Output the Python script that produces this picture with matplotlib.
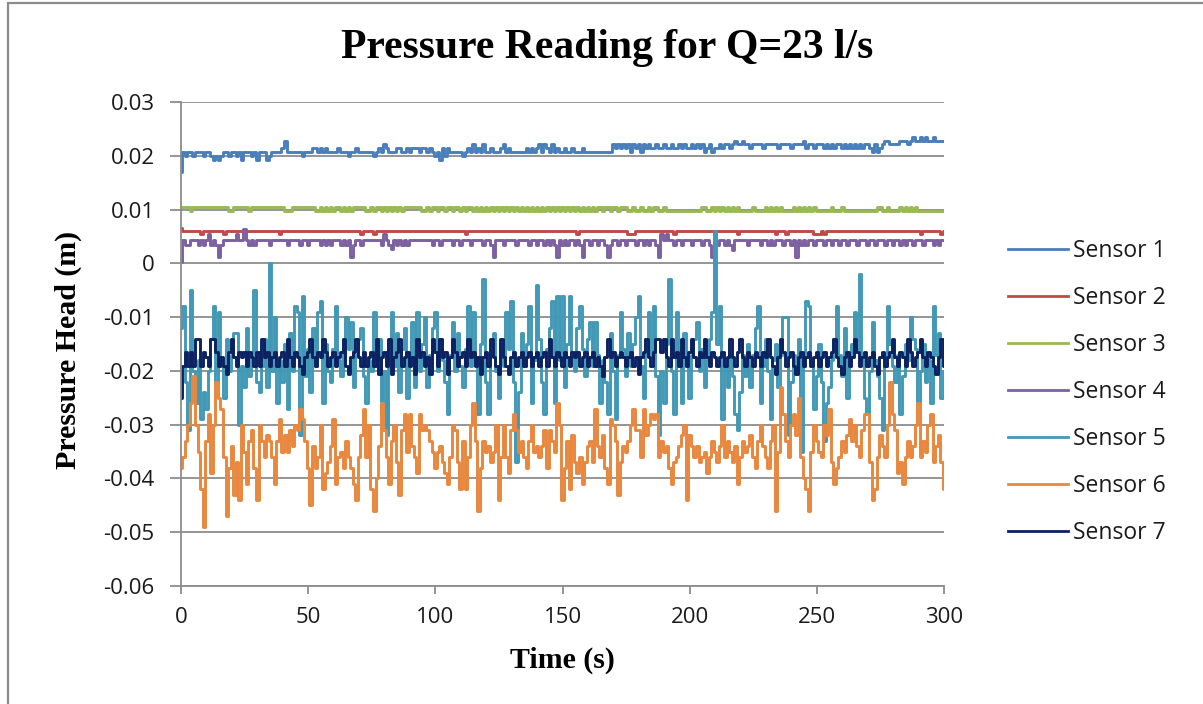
import numpy as np
import matplotlib
matplotlib.use("Agg")
import matplotlib.pyplot as plt
from matplotlib.patches import Rectangle
from matplotlib.ticker import FuncFormatter

plt.rcParams['axes.unicode_minus'] = False

# readings in mm, one per second (0..300 s)
sensor1 = [17.0, 20.7, 20.0, 20.7, 20.7, 20.0, 20.7, 20.7, 20.7, 20.0,
           20.7, 20.7, 20.0, 19.3, 20.0, 19.3, 20.0, 20.7, 20.7, 20.0,
           20.7, 20.7, 20.0, 20.7, 19.3, 20.7, 20.7, 20.7, 20.0, 20.7,
           19.3, 20.7, 20.7, 20.7, 19.3, 20.0, 20.7, 20.7, 20.7, 20.7,
           21.4, 22.8, 20.7, 20.7, 20.7, 20.7, 20.7, 20.7, 20.0, 20.7,
           20.7, 20.7, 21.4, 21.4, 20.7, 21.4, 20.7, 21.4, 20.7, 20.7,
           20.7, 20.7, 21.4, 20.7, 20.7, 20.7, 20.0, 20.7, 20.7, 21.4,
           20.7, 20.7, 20.7, 20.7, 20.7, 20.7, 20.0, 20.7, 21.4, 20.7,
           22.1, 21.4, 20.7, 20.7, 20.7, 21.4, 21.4, 20.7, 20.7, 21.4,
           20.7, 21.4, 21.4, 21.4, 20.7, 21.4, 21.4, 20.7, 21.4, 20.7,
           20.0, 20.7, 19.3, 21.4, 20.0, 21.4, 20.7, 20.7, 20.7, 20.7,
           20.7, 20.0, 20.7, 21.4, 20.7, 22.1, 20.7, 21.4, 20.7, 22.1,
           20.7, 20.7, 21.4, 20.7, 20.7, 20.7, 21.4, 22.1, 20.7, 21.4,
           20.7, 20.7, 20.7, 20.7, 20.7, 20.7, 21.4, 20.7, 21.4, 20.7,
           21.4, 22.1, 20.7, 22.1, 21.4, 20.7, 22.1, 20.7, 21.4, 20.7,
           20.7, 21.4, 20.7, 20.7, 21.4, 20.7, 20.7, 20.7, 21.4, 20.7,
           20.7, 20.7, 20.7, 20.7, 20.7, 20.7, 20.7, 20.7, 20.7, 20.7,
           22.1, 21.4, 22.1, 21.4, 22.1, 21.4, 22.1, 20.7, 22.1, 21.4,
           22.1, 20.7, 22.1, 21.4, 22.1, 21.4, 21.4, 22.1, 21.4, 21.4,
           22.1, 21.4, 21.4, 22.1, 21.4, 21.4, 22.1, 21.4, 22.1, 21.4,
           21.4, 22.1, 21.4, 22.1, 21.4, 22.1, 20.7, 21.4, 22.1, 20.7,
           21.4, 21.4, 22.1, 21.4, 22.1, 22.1, 21.4, 22.1, 22.8, 22.1,
           22.1, 22.8, 22.1, 22.1, 21.4, 22.1, 22.1, 22.1, 22.1, 21.4,
           22.1, 22.1, 22.1, 22.1, 22.1, 21.4, 22.1, 22.1, 22.1, 22.1,
           21.4, 22.1, 22.1, 22.1, 22.1, 22.8, 21.4, 22.1, 22.1, 21.4,
           22.1, 22.1, 22.1, 21.4, 22.1, 21.4, 22.1, 21.4, 22.1, 22.1,
           21.4, 22.1, 21.4, 22.1, 21.4, 22.1, 21.4, 22.1, 21.4, 22.1,
           22.1, 21.4, 20.7, 22.1, 20.7, 21.4, 22.1, 22.8, 22.8, 22.1,
           22.1, 22.1, 22.1, 22.8, 22.8, 22.8, 22.1, 22.8, 23.5, 22.8,
           22.8, 23.5, 22.8, 23.5, 22.8, 22.8, 23.5, 22.8, 22.8, 22.8,
           22.8]

sensor2 = [6.6, 6.1, 6.1, 6.1, 6.1, 6.1, 6.1, 6.1, 5.4, 6.1,
           6.1, 6.1, 6.1, 6.1, 6.1, 6.1, 6.1, 5.4, 6.1, 6.1,
           6.1, 6.1, 6.1, 6.1, 6.1, 6.1, 6.1, 6.1, 6.1, 6.1,
           6.1, 6.1, 6.1, 6.1, 6.1, 6.1, 6.1, 6.1, 6.1, 5.4,
           6.1, 6.1, 6.1, 6.1, 6.1, 6.1, 6.1, 6.1, 6.1, 6.1,
           6.1, 6.1, 6.1, 6.1, 6.1, 6.1, 6.1, 6.1, 6.1, 6.1,
           6.1, 6.1, 6.1, 6.1, 6.1, 6.1, 6.1, 6.1, 6.1, 6.1,
           6.1, 5.4, 6.1, 6.1, 6.1, 6.1, 5.4, 6.1, 6.1, 6.1,
           6.1, 6.1, 6.1, 6.1, 6.1, 6.1, 6.1, 6.1, 6.1, 6.1,
           6.1, 6.1, 6.1, 6.1, 6.1, 6.1, 6.1, 6.1, 6.1, 6.1,
           6.1, 6.1, 6.1, 6.1, 6.1, 6.1, 6.1, 6.1, 6.1, 6.1,
           6.1, 6.1, 5.4, 6.1, 6.1, 6.1, 6.1, 6.1, 6.1, 6.1,
           6.1, 6.1, 6.1, 6.1, 6.1, 6.1, 6.1, 6.1, 6.1, 6.1,
           6.1, 6.1, 6.1, 6.1, 6.1, 6.1, 6.1, 6.1, 6.1, 6.1,
           6.1, 6.1, 6.1, 6.1, 6.1, 6.1, 6.1, 6.1, 6.1, 6.1,
           6.1, 6.1, 6.1, 6.1, 6.1, 6.1, 5.4, 6.1, 6.1, 6.1,
           6.1, 6.1, 6.1, 6.1, 6.1, 6.1, 6.1, 6.1, 6.1, 6.1,
           6.1, 6.1, 6.1, 6.1, 6.1, 6.1, 5.4, 5.4, 5.4, 6.1,
           6.1, 6.1, 6.1, 6.1, 6.1, 6.1, 6.1, 6.1, 6.1, 6.1,
           6.1, 6.1, 6.1, 6.1, 5.4, 6.1, 6.1, 6.1, 6.1, 6.1,
           6.1, 6.1, 6.1, 6.1, 6.1, 6.1, 6.1, 6.1, 6.1, 6.1,
           6.1, 6.1, 6.1, 6.1, 6.1, 6.1, 6.1, 6.1, 6.1, 5.4,
           6.1, 6.1, 6.1, 6.1, 6.1, 6.1, 6.1, 6.1, 6.1, 6.1,
           6.1, 6.1, 6.1, 6.1, 5.4, 6.1, 6.1, 6.1, 5.4, 6.1,
           6.1, 6.1, 6.1, 6.1, 6.1, 6.1, 6.1, 6.1, 6.1, 5.4,
           5.4, 5.4, 6.1, 5.4, 6.1, 6.1, 6.1, 6.1, 6.1, 6.1,
           6.1, 6.1, 6.1, 6.1, 6.1, 6.1, 6.1, 6.1, 6.1, 6.1,
           6.1, 6.1, 6.1, 6.1, 6.1, 6.1, 6.1, 6.1, 6.1, 6.1,
           6.1, 6.1, 6.1, 6.1, 6.1, 6.1, 6.1, 6.1, 6.1, 6.1,
           6.1, 5.4, 6.1, 6.1, 6.1, 6.1, 6.1, 6.1, 6.1, 5.4,
           6.1]

sensor3 = [10.4, 10.4, 10.4, 10.4, 9.8, 10.4, 10.4, 10.4, 10.4, 10.4,
           10.4, 10.4, 10.4, 10.4, 10.4, 10.4, 10.4, 10.4, 10.4, 9.8,
           9.8, 10.4, 10.4, 10.4, 10.4, 10.4, 10.4, 9.8, 10.4, 10.4,
           10.4, 10.4, 10.4, 10.4, 10.4, 10.4, 10.4, 10.4, 10.4, 10.4,
           10.4, 9.8, 9.8, 9.8, 10.4, 10.4, 10.4, 10.4, 10.4, 10.4,
           10.4, 10.4, 10.4, 9.8, 9.8, 10.4, 9.8, 10.4, 9.8, 10.4,
           9.8, 10.4, 10.4, 9.8, 10.4, 9.8, 10.4, 9.8, 10.4, 10.4,
           10.4, 10.4, 10.4, 9.8, 9.8, 10.4, 9.8, 10.4, 10.4, 9.8,
           10.4, 9.8, 10.4, 9.8, 10.4, 9.8, 10.4, 9.8, 10.4, 10.4,
           10.4, 10.4, 10.4, 10.4, 10.4, 9.8, 9.8, 10.4, 9.8, 10.4,
           10.4, 9.8, 10.4, 10.4, 9.8, 10.4, 10.4, 9.8, 10.4, 10.4,
           9.8, 10.4, 9.8, 10.4, 10.4, 9.8, 10.4, 9.8, 10.4, 9.8,
           10.4, 9.8, 10.4, 9.8, 10.4, 9.8, 10.4, 9.8, 10.4, 9.8,
           10.4, 9.8, 10.4, 9.8, 10.4, 9.8, 10.4, 9.8, 10.4, 9.8,
           10.4, 9.8, 10.4, 9.8, 10.4, 9.8, 10.4, 9.8, 10.4, 9.8,
           10.4, 9.8, 10.4, 9.8, 10.4, 9.8, 10.4, 9.8, 10.4, 9.8,
           10.4, 9.8, 10.4, 9.8, 10.4, 10.4, 9.8, 10.4, 10.4, 9.8,
           10.4, 10.4, 9.8, 10.4, 10.4, 10.4, 9.8, 9.8, 10.4, 9.8,
           9.8, 10.4, 9.8, 9.8, 10.4, 9.8, 10.4, 10.4, 9.8, 9.8,
           10.4, 9.8, 9.8, 9.8, 9.8, 9.8, 9.8, 9.8, 9.8, 9.8,
           9.8, 9.8, 9.8, 9.8, 9.8, 10.4, 10.4, 9.8, 9.8, 10.4,
           9.8, 10.4, 9.8, 10.4, 9.8, 10.4, 9.8, 10.4, 9.8, 10.4,
           9.8, 9.8, 9.8, 9.8, 9.8, 10.4, 9.8, 9.8, 9.8, 9.8,
           10.4, 9.8, 10.4, 9.8, 10.4, 9.8, 10.4, 9.8, 9.8, 9.8,
           9.8, 10.4, 9.8, 10.4, 9.8, 10.4, 9.8, 10.4, 9.8, 10.4,
           9.8, 9.8, 9.8, 9.8, 9.8, 9.8, 10.4, 9.8, 9.8, 9.8,
           10.4, 9.8, 9.8, 9.8, 9.8, 9.8, 9.8, 9.8, 9.8, 9.8,
           9.8, 9.8, 9.8, 9.8, 10.4, 10.4, 9.8, 9.8, 10.4, 9.8,
           9.8, 9.8, 9.8, 10.4, 9.8, 10.4, 9.8, 10.4, 9.8, 10.4,
           9.8, 9.8, 9.8, 9.8, 9.8, 9.8, 9.8, 9.8, 9.8, 9.8,
           9.8]

sensor4 = [0.2, 4.4, 3.4, 3.4, 4.4, 4.4, 4.4, 3.4, 4.4, 3.4,
           4.4, 5.5, 3.4, 4.4, 3.4, 1.2, 3.4, 4.4, 4.4, 4.4,
           4.4, 4.4, 5.5, 4.4, 4.4, 6.4, 4.4, 3.4, 4.4, 3.4,
           4.4, 4.4, 4.4, 4.4, 4.4, 3.4, 4.4, 4.4, 4.4, 4.4,
           4.4, 4.4, 3.4, 4.4, 4.4, 4.4, 4.4, 3.4, 4.4, 4.4,
           3.4, 4.4, 4.4, 4.4, 4.4, 3.4, 4.4, 3.4, 4.4, 3.4,
           4.4, 4.4, 4.4, 3.4, 4.4, 3.4, 4.4, 1.2, 3.4, 4.4,
           4.4, 3.4, 4.4, 4.4, 4.4, 4.4, 4.4, 4.4, 4.4, 3.4,
           5.5, 4.4, 3.4, 2.6, 4.4, 3.4, 4.4, 3.4, 4.4, 3.4,
           4.4, 4.4, 4.4, 4.4, 4.4, 4.4, 4.4, 4.4, 4.4, 3.4,
           4.4, 4.4, 3.4, 4.4, 4.4, 4.4, 4.4, 3.4, 4.4, 4.4,
           3.4, 4.4, 4.4, 4.4, 3.4, 4.4, 4.4, 4.4, 4.4, 3.4,
           4.4, 4.4, 3.4, 1.2, 4.4, 4.4, 4.4, 3.4, 4.4, 4.4,
           4.4, 4.4, 3.4, 4.4, 4.4, 4.4, 4.4, 3.4, 4.4, 4.4,
           3.4, 4.4, 4.4, 3.4, 4.4, 3.4, 4.4, 3.4, 1.2, 4.4,
           3.4, 4.4, 3.4, 4.4, 4.4, 3.4, 4.4, 3.4, 1.2, 4.4,
           4.4, 3.4, 4.4, 4.4, 3.4, 4.4, 4.4, 3.4, 1.2, 3.4,
           4.4, 4.4, 3.4, 4.4, 4.4, 3.4, 4.4, 4.4, 4.4, 3.4,
           4.4, 4.4, 3.4, 4.4, 3.4, 4.4, 4.4, 3.4, 1.2, 5.5,
           4.4, 5.5, 4.4, 4.4, 3.4, 4.4, 4.4, 3.4, 4.4, 4.4,
           4.4, 3.4, 4.4, 4.4, 4.4, 3.4, 4.4, 4.4, 3.4, 1.2,
           5.5, 3.4, 4.4, 4.4, 3.4, 4.4, 3.4, 2.4, 4.4, 4.4,
           4.4, 4.4, 4.4, 3.4, 4.4, 4.4, 4.4, 4.4, 3.4, 4.4,
           4.4, 3.4, 4.4, 3.4, 4.4, 4.4, 4.4, 3.4, 4.4, 4.4,
           3.4, 4.4, 1.2, 4.4, 3.4, 4.4, 3.4, 4.4, 4.4, 3.4,
           4.4, 4.4, 4.4, 3.4, 4.4, 4.4, 3.4, 4.4, 4.4, 3.4,
           4.4, 4.4, 3.4, 4.4, 4.4, 4.4, 3.4, 4.4, 4.4, 4.4,
           3.4, 4.4, 4.4, 3.4, 4.4, 4.4, 4.4, 3.4, 4.4, 4.4,
           3.4, 4.4, 4.4, 3.4, 4.4, 3.4, 4.4, 4.4, 3.4, 4.4,
           4.4, 4.4, 3.4, 4.4, 4.4, 4.4, 3.4, 4.4, 3.4, 4.4,
           4.4]

sensor5 = [-12, -8, -22, -31, -5, -20, -26, -18, -29, -24,
           -27, -20, -14, -8, -22, -9, -19, -25, -14, -20,
           -17, -13, -13, -30, -19, -23, -12, -21, -17, -5,
           -22, -24, -19, -14, -23, 0, -20, -10, -26, -18,
           -22, -15, -27, -13, -20, -8, -9, -32, -6, -21,
           -16, -24, -12, -19, -9, -7, -26, -15, -20, -22,
           -16, -8, -18, -21, -14, -10, -16, -11, -23, -17,
           -14, -12, -21, -26, -18, -20, -9, -18, -14, -28,
           -20, -32, -15, -9, -19, -13, -24, -16, -12, -25,
           -17, -11, -23, -9, -20, -15, -10, -23, -17, -12,
           -9, -20, -14, -18, -22, -28, -17, -11, -20, -13,
           -19, -23, -16, -8, -19, -9, -18, -28, -15, -3,
           -22, -28, -17, -13, -20, -25, -15, -19, -9, -16,
           -7, -22, -37, -24, -13, -19, -15, -8, -26, -18,
           -4, -14, -22, -28, -16, -12, -7, -26, -6, -18,
           -6, -23, -15, -6, -17, -20, -12, -8, -16, -21,
           -14, -11, -19, -11, -17, -26, -18, -22, -28, -13,
           -20, -29, -17, -9, -16, -21, -13, -19, -15, -10,
           -6, -19, -25, -14, -9, -17, -8, -21, -32, -20,
           -26, -15, -3, -20, -28, -9, -18, -26, -13, -19,
           -25, -17, -14, -11, -20, -16, -23, -18, -14, -9,
           6, -15, -8, -29, -19, -23, -17, -21, -28, -31,
           -24, -17, -21, -15, -23, -17, -12, -8, -26, -19,
           -14, -20, -29, -18, -15, -23, -17, -10, -10, -32,
           -22, -17, -20, -14, -35, -19, -7, -8, -18, -27,
           -21, -15, -22, -33, -26, -23, -18, -14, -8, -17,
           -21, -12, -25, -19, -15, -9, -16, -2, -18, -25,
           -28, -20, -11, -18, -21, -25, -31, -19, -8, -15,
           -19, -22, -17, -28, -21, -15, -18, -10, -14, -16,
           -26, -20, -15, -22, -18, -26, -8, -17, -13, -25,
           -20]

sensor6 = [-38, -36, -33, -30, -26, -21, -30, -35, -42, -49,
           -33, -28, -39, -30, -22, -25, -27, -36, -47, -38,
           -34, -43, -37, -44, -30, -35, -41, -33, -31, -38,
           -44, -30, -33, -36, -32, -33, -36, -41, -33, -29,
           -35, -32, -35, -31, -34, -30, -31, -27, -29, -33,
           -38, -45, -34, -38, -36, -30, -42, -39, -37, -34,
           -29, -41, -36, -35, -38, -33, -36, -38, -41, -44,
           -36, -32, -27, -36, -30, -42, -46, -40, -34, -26,
           -31, -36, -41, -33, -30, -37, -43, -31, -28, -35,
           -28, -34, -36, -39, -28, -31, -30, -31, -33, -35,
           -38, -35, -34, -37, -39, -41, -36, -30, -31, -37,
           -42, -33, -42, -36, -30, -26, -33, -46, -38, -33,
           -35, -34, -37, -35, -30, -44, -36, -30, -36, -39,
           -31, -28, -31, -35, -33, -36, -38, -33, -30, -35,
           -34, -36, -34, -31, -38, -31, -33, -35, -26, -30,
           -44, -38, -33, -42, -32, -37, -39, -36, -41, -37,
           -34, -33, -37, -27, -34, -36, -32, -38, -41, -29,
           -30, -33, -43, -37, -34, -35, -33, -30, -27, -31,
           -31, -36, -27, -32, -30, -28, -29, -28, -36, -33,
           -35, -34, -38, -41, -37, -36, -34, -32, -30, -44,
           -32, -34, -36, -34, -37, -36, -35, -39, -36, -33,
           -35, -37, -34, -30, -36, -33, -35, -37, -34, -41,
           -36, -33, -35, -34, -32, -36, -38, -33, -30, -34,
           -36, -38, -33, -30, -46, -35, -23, -28, -33, -36,
           -30, -28, -32, -25, -36, -40, -42, -46, -35, -30,
           -33, -35, -36, -30, -32, -27, -37, -41, -38, -36,
           -33, -35, -32, -29, -33, -30, -34, -36, -31, -28,
           -28, -37, -44, -42, -36, -32, -34, -36, -30, -22,
           -28, -31, -39, -37, -41, -36, -33, -36, -34, -30,
           -26, -36, -33, -35, -30, -28, -37, -34, -32, -37,
           -42]

sensor7 = [-25, -19, -16.5, -19, -16.5, -19, -14, -14, -19, -16.5,
           -17.5, -19, -14, -14, -16.5, -19, -17.5, -19, -20.5, -16.5,
           -14, -17.5, -19, -16.5, -17.5, -16.5, -19, -16.5, -17.5, -19,
           -16.5, -19, -14, -17.5, -16.5, -19, -17.5, -16.5, -19, -17.5,
           -16.5, -19, -14, -17.5, -19, -16.5, -17.5, -19, -20.5, -17.5,
           -16.5, -14, -17.5, -19, -16.5, -17.5, -14, -16.5, -19, -17.5,
           -16.5, -19, -17.5, -16.5, -14, -19, -20.5, -17.5, -16.5, -14,
           -17.5, -19, -16.5, -19, -17.5, -16.5, -19, -14, -20.5, -17.5,
           -16.5, -19, -14, -20.5, -17.5, -16.5, -14, -19, -17.5, -16.5,
           -19, -17.5, -20.5, -14, -17.5, -16.5, -19, -17.5, -20.5, -14,
           -16.5, -19, -14, -17.5, -16.5, -20.5, -17.5, -14, -16.5, -19,
           -17.5, -16.5, -19, -14, -17.5, -16.5, -19, -17.5, -20.5, -17.5,
           -16.5, -19, -14, -17.5, -19, -20.5, -14, -17.5, -19, -20.5,
           -17.5, -16.5, -19, -17.5, -16.5, -19, -17.5, -16.5, -19, -17.5,
           -16.5, -19, -17.5, -16.5, -19, -14, -17.5, -19, -16.5, -17.5,
           -19, -16.5, -17.5, -19, -16.5, -17.5, -16.5, -19, -17.5, -16.5,
           -19, -17.5, -16.5, -19, -17.5, -19, -21, -17.5, -14, -17.5,
           -16.5, -19, -17.5, -16.5, -17.5, -19, -17.5, -16.5, -19, -17.5,
           -20.5, -17.5, -16.5, -14, -17.5, -19, -16.5, -14, -14, -16.5,
           -14, -17.5, -19, -14, -17.5, -16.5, -19, -14, -17.5, -19,
           -16.5, -14, -17.5, -19, -16.5, -17.5, -14, -17.5, -19, -16.5,
           -17.5, -19, -17.5, -16.5, -19, -17.5, -14, -17.5, -19, -16.5,
           -14, -17.5, -19, -16.5, -17.5, -19, -16.5, -17.5, -19, -16.5,
           -17.5, -14, -17.5, -19, -20.5, -17.5, -14, -16.5, -19, -17.5,
           -16.5, -19, -20.5, -17.5, -16.5, -19, -17.5, -16.5, -19, -17.5,
           -16.5, -19, -17.5, -16.5, -19, -17.5, -16.5, -14, -17.5, -19,
           -20.5, -17.5, -16.5, -19, -17.5, -14, -16.5, -19, -17.5, -16.5,
           -19, -17.5, -16.5, -19, -20.5, -17.5, -16.5, -19, -17.5, -16.5,
           -14, -17.5, -19, -16.5, -17.5, -19, -14, -16.5, -19, -17.5,
           -16.5, -14, -17.5, -19, -16.5, -17.5, -19, -20.5, -17.5, -14,
           -19]

series = [sensor1, sensor2, sensor3, sensor4, sensor5, sensor6, sensor7]
labels = ["Sensor 1", "Sensor 2", "Sensor 3", "Sensor 4", "Sensor 5", "Sensor 6", "Sensor 7"]
colors = ["#4a7ebb", "#be4b48", "#98b954", "#7d60a0", "#4199b5", "#e8873d", "#0b2162"]
x_ticks = [0, 50, 100, 150, 200, 250, 300]
y_ticks = [-0.06, -0.05, -0.04, -0.03, -0.02, -0.01, 0, 0.01, 0.02, 0.03]

fig = plt.figure(figsize=(12.03, 7.04), dpi=100)
ax = fig.add_axes([181 / 1203, 1 - 586 / 704, (944 - 181) / 1203, (586 - 102) / 704])

for vals, lab, col in zip(series, labels, colors):
    t = np.arange(len(vals))
    ax.plot(t, np.array(vals) / 1000.0, color=col, lw=2.1, label=lab, drawstyle="steps-mid")

ax.set_xlim(0, 300)
ax.set_ylim(-0.06, 0.03)
ax.set_xticks(x_ticks)
ax.set_yticks(y_ticks)
ax.yaxis.set_major_formatter(FuncFormatter(lambda v, p: "0" if abs(v) < 1e-9 else "%.2f" % v))
ax.grid(axis='y', color="#8c8c8c", lw=1.3)
ax.set_axisbelow(True)
for s in ["top", "right"]:
    ax.spines[s].set_visible(False)
for s in ["left", "bottom"]:
    ax.spines[s].set_color("#8c8c8c")
    ax.spines[s].set_linewidth(1.3)
ax.tick_params(axis='both', direction='out', color="#8c8c8c", width=1.3, labelsize=16,
               labelcolor="#1a1a1a")
ax.tick_params(axis='y', length=8, pad=11)
ax.tick_params(axis='x', length=6, pad=9)
for lbl in ax.get_xticklabels() + ax.get_yticklabels():
    lbl.set_fontfamily("Open Sans")

fig.text(0.505, 1 - 48 / 704, "Pressure Reading for Q=23 l/s", ha="center", va="center",
         fontsize=30, fontweight="bold", family="Liberation Serif")
fig.text(68 / 1203, 1 - 350 / 704, "Pressure Head (m)", ha="center", va="center", rotation=90,
         fontsize=21.5, fontweight="bold", family="Liberation Serif")
fig.text(562 / 1203, 1 - 660 / 704, "Time (s)", ha="center", va="center",
         fontsize=21.5, fontweight="bold", family="Liberation Serif")

leg = ax.legend(loc="center left", bbox_to_anchor=(1008 / 1203, 1 - 392 / 704),
                bbox_transform=fig.transFigure, frameon=False, borderpad=0, borderaxespad=0,
                handlelength=2.6, handletextpad=0.25, labelspacing=1.0,
                prop={"family": "Open Sans", "size": 16.5})
for h in leg.get_lines():
    h.set_linewidth(2.0)
for txt in leg.get_texts():
    txt.set_color("#1a1a1a")

fig.add_artist(Rectangle((8 / 1203, -0.05), 1.2, 1.05 - 3 / 704, transform=fig.transFigure,
                         fill=False, edgecolor="#8c8c8c", lw=1.6))

fig.savefig("out.png", dpi=100)
